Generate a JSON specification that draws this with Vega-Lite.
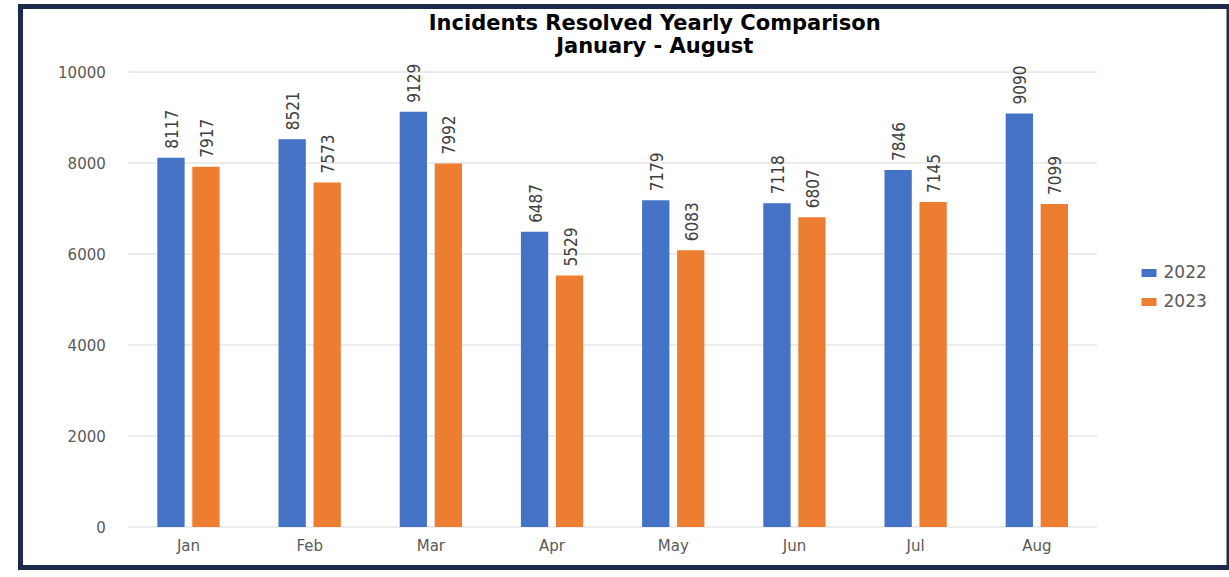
{
  "$schema": "https://vega.github.io/schema/vega-lite/v6.json",
  "autosize": {"type": "none"},
  "width": 1208.5,
  "height": 561,
  "padding": {"left": 20.5, "top": 6.5, "right": 0, "bottom": 9.5},
  "background": "white",
  "title": {
    "text": ["Incidents Resolved Yearly Comparison", "January  - August"],
    "anchor": "middle",
    "frame": "group",
    "baseline": "alphabetic",
    "offset": -67,
    "dx": 30,
    "font": "DejaVu Sans",
    "fontSize": 21,
    "fontWeight": "bold",
    "color": "#000000",
    "lineHeight": 23
  },
  "config": {
    "view": {"stroke": "#1c2a4d", "strokeWidth": 5, "fill": "white"},
    "axis": {"title": null, "domain": false, "ticks": false, "tickSize": 0, "grid": false, "labelFont": "DejaVu Sans", "labelColor": "#595959", "labelFontSize": 15}
  },
  "resolve": {"scale": {"x": "independent"}, "axis": {"x": "independent"}},
  "layer": [
    {
      "data": {"values": [{"value": 0}, {"value": 2000}, {"value": 4000}, {"value": 6000}, {"value": 8000}, {"value": 10000}]},
      "mark": {"type": "rule", "color": "#d9d9d9", "strokeWidth": 1},
      "encoding": {
        "x": {"datum": 0, "type": "quantitative", "scale": {"domain": [-0.1112, 1.1362], "nice": false, "zero": false}, "axis": null},
        "x2": {"datum": 1},
        "y": {"field": "value", "type": "quantitative", "scale": {"domain": [-890, 11440], "nice": false, "zero": false},
              "axis": {"values": [0, 2000, 4000, 6000, 8000, 10000], "format": "d", "offset": -107.8, "labelPadding": 23}}
      }
    },
    {
      "data": {"values": [
        {"month": "Jan", "year": "2022", "value": 8117}, {"month": "Jan", "year": "2023", "value": 7917},
        {"month": "Feb", "year": "2022", "value": 8521}, {"month": "Feb", "year": "2023", "value": 7573},
        {"month": "Mar", "year": "2022", "value": 9129}, {"month": "Mar", "year": "2023", "value": 7992},
        {"month": "Apr", "year": "2022", "value": 6487}, {"month": "Apr", "year": "2023", "value": 5529},
        {"month": "May", "year": "2022", "value": 7179}, {"month": "May", "year": "2023", "value": 6083},
        {"month": "Jun", "year": "2022", "value": 7118}, {"month": "Jun", "year": "2023", "value": 6807},
        {"month": "Jul", "year": "2022", "value": 7846}, {"month": "Jul", "year": "2023", "value": 7145},
        {"month": "Aug", "year": "2022", "value": 9090}, {"month": "Aug", "year": "2023", "value": 7099}
      ]},
      "encoding": {
        "x": {"field": "month", "type": "nominal", "sort": null,
              "scale": {"range": [107.8, 1076.5], "paddingInner": 0.486, "paddingOuter": 0.2395},
              "axis": {"labelAngle": 0, "offset": -40.5, "labelPadding": 11, "labelFontSize": 15}},
        "xOffset": {"field": "year", "type": "nominal", "scale": {"paddingInner": 0.22, "paddingOuter": 0}},
        "y": {"field": "value", "type": "quantitative",
              "axis": {"values": [0, 2000, 4000, 6000, 8000, 10000], "format": "d", "offset": -107.8, "labelPadding": 23}}
      },
      "layer": [
        {
          "mark": {"type": "bar"},
          "encoding": {
            "color": {"field": "year", "type": "nominal",
                      "scale": {"domain": ["2022", "2023"], "range": ["#4472C4", "#ED7D31"]},
                      "legend": {"orient": "none", "legendX": 1120, "legendY": 258, "title": null,
                                 "symbolType": "M-1,-0.53H1V0.53H-1Z", "symbolSize": 225, "symbolStrokeWidth": 0,
                                 "labelFont": "DejaVu Sans", "labelFontSize": 17, "labelColor": "#595959",
                                 "rowPadding": 11, "labelOffset": 6, "padding": 0}}
          }
        },
        {
          "mark": {"type": "text", "angle": 270, "align": "left", "baseline": "middle", "dx": 9, "dy": 2,
                   "font": "Liberation Sans Narrow, DejaVu Sans Condensed, sans-serif", "fontSize": 17, "color": "#404040"},
          "encoding": {"text": {"field": "value", "type": "quantitative", "format": "d"}}
        }
      ]
    }
  ]
}
